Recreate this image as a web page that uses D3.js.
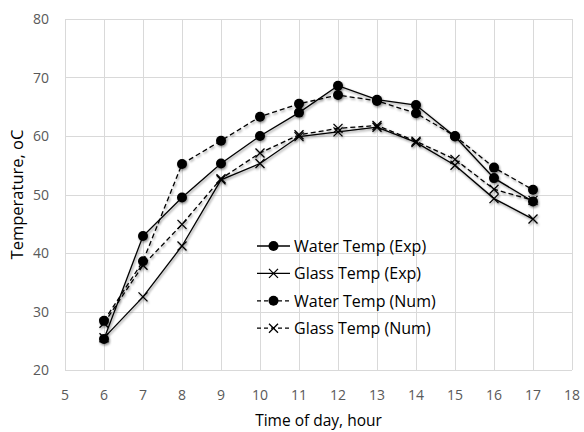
<!DOCTYPE html>
<html>
<head>
<meta charset="utf-8">
<script src="https://cdn.jsdelivr.net/npm/d3@7"></script>
<style>
  body { margin: 0; background: #fff; }
  svg { font-family: "Open Sans", "Liberation Sans", Arial, sans-serif; }
  .grid line { stroke: #d9d9d9; stroke-width: 1; }
  .tick-label { fill: #595959; font-size: 14px; }
  .axis-title { fill: #000; font-size: 15.5px; }
  .legend text { fill: #000; font-size: 16px; }
</style>
</head>
<body>
<svg id="chart"></svg>
<script>
const hours = [6, 7, 8, 9, 10, 11, 12, 13, 14, 15, 16, 17];
const waterExp  = [25.3, 42.9, 49.5, 55.3, 60.0, 64.0, 68.6, 66.2, 65.3, 59.9, 52.8, 48.8];
const glassExp  = [25.5, 32.5, 41.2, 52.5, 55.3, 59.9, 60.7, 61.5, 58.9, 55.0, 49.3, 45.8];
const waterNum  = [28.4, 38.6, 55.2, 59.2, 63.3, 65.5, 67.0, 66.0, 63.9, 60.0, 54.6, 50.8];
const glassNum  = [28.0, 37.9, 44.9, 52.7, 57.1, 60.2, 61.3, 61.8, 59.1, 56.0, 50.9, 49.0];
const xTicks = d3.range(5, 19);
const yTicks = [20, 30, 40, 50, 60, 70, 80];

const series = [
  {name: "Water Temp (Exp)",  values: waterExp, marker: "circle", dash: null},
  {name: "Glass Temp (Exp)",  values: glassExp, marker: "cross",  dash: null},
  {name: "Water Temp (Num)",  values: waterNum, marker: "circle", dash: "5,3"},
  {name: "Glass Temp (Num)",  values: glassNum, marker: "cross",  dash: "5,3"}
];

const W = 584, H = 432;
const MARGIN = {top: 19, right: 12, bottom: 62, left: 65};

const svg = d3.select("#chart").attr("width", W).attr("height", H);

const defs = svg.append("defs");
const shadow = defs.append("filter").attr("id", "shadow")
  .attr("x", "-20%").attr("y", "-20%").attr("width", "140%").attr("height", "140%");
shadow.append("feDropShadow")
  .attr("dx", 1).attr("dy", 1.5).attr("stdDeviation", 1.2)
  .attr("flood-color", "#000").attr("flood-opacity", 0.45);

const x = d3.scaleLinear().domain([5, 18]).range([MARGIN.left, W - MARGIN.right]);
const y = d3.scaleLinear().domain([20, 80]).range([H - MARGIN.bottom, MARGIN.top]);

// gridlines
const grid = svg.append("g").attr("class", "grid");
grid.selectAll("line.v").data(xTicks).join("line")
  .attr("class", "v")
  .attr("x1", d => Math.round(x(d)) + 0.5).attr("x2", d => Math.round(x(d)) + 0.5)
  .attr("y1", y(20)).attr("y2", y(80));
grid.selectAll("line.h").data(yTicks).join("line")
  .attr("class", "h")
  .attr("y1", d => Math.round(y(d)) + 0.5).attr("y2", d => Math.round(y(d)) + 0.5)
  .attr("x1", x(5)).attr("x2", x(18));

// tick labels
svg.append("g").selectAll("text").data(xTicks).join("text")
  .attr("class", "tick-label")
  .attr("x", d => x(d))
  .attr("y", y(20) + 30)
  .attr("text-anchor", "middle")
  .text(d => d);
svg.append("g").selectAll("text").data(yTicks).join("text")
  .attr("class", "tick-label")
  .attr("x", x(5) - 16)
  .attr("y", d => y(d) + 5)
  .attr("text-anchor", "end")
  .text(d => d);

// axis titles
svg.append("text").attr("class", "axis-title")
  .attr("x", (x(5) + x(18)) / 2).attr("y", 426)
  .attr("text-anchor", "middle")
  .text("Time of day, hour");
svg.append("text").attr("class", "axis-title")
  .attr("transform", `translate(23,${(y(20) + y(80)) / 2}) rotate(-90)`)
  .attr("text-anchor", "middle")
  .style("font-size", "16.5px")
  .text("Temperature, oC");

function drawMarker(g, type, cx, cy) {
  if (type === "circle") {
    g.append("circle").attr("cx", cx).attr("cy", cy).attr("r", 5).attr("fill", "#000");
  } else {
    const s = 4.5;
    g.append("path")
      .attr("d", `M${cx - s},${cy - s}L${cx + s},${cy + s}M${cx - s},${cy + s}L${cx + s},${cy - s}`)
      .attr("stroke", "#000").attr("stroke-width", 1.3).attr("fill", "none");
  }
}

const line = d3.line().x(d => x(d[0])).y(d => y(d[1]));

const plot = svg.append("g").attr("filter", "url(#shadow)");
series.forEach(s => {
  const pts = hours.map((h, i) => [h, s.values[i]]);
  const g = plot.append("g");
  g.append("path")
    .datum(pts)
    .attr("d", line)
    .attr("fill", "none")
    .attr("stroke", "#000")
    .attr("stroke-width", 1.3)
    .attr("stroke-dasharray", s.dash);
  pts.forEach(p => drawMarker(g, s.marker, x(p[0]), y(p[1])));
});

// legend
const legend = svg.append("g").attr("class", "legend");
series.forEach((s, i) => {
  const ly = 246 + i * 27.4;
  const g = legend.append("g");
  g.append("line")
    .attr("x1", 257).attr("x2", 290).attr("y1", ly).attr("y2", ly)
    .attr("stroke", "#000").attr("stroke-width", 1.3)
    .attr("stroke-dasharray", s.dash ? "4,3" : null);
  drawMarker(g, s.marker, 273.5, ly);
  g.append("text").attr("x", 294).attr("y", ly + 6).text(s.name);
});
</script>
</body>
</html>
